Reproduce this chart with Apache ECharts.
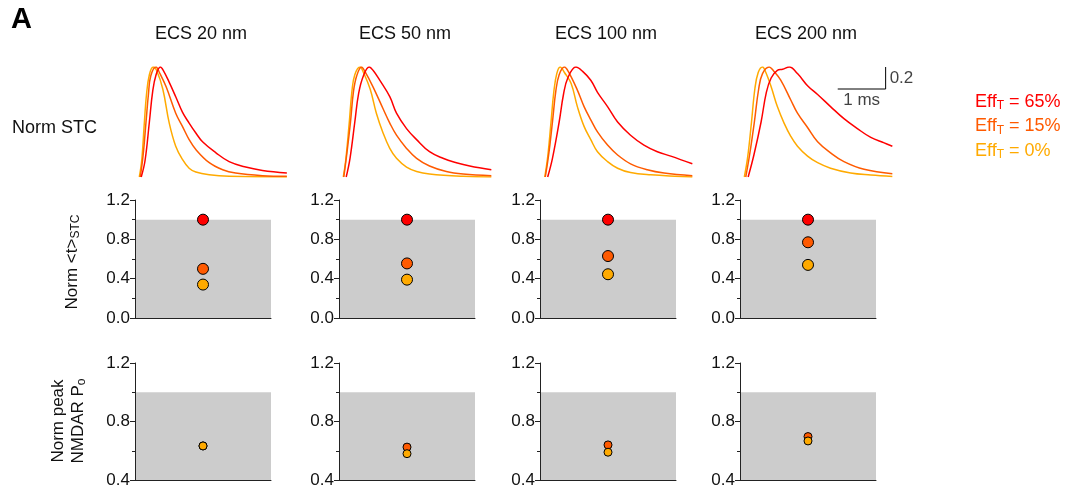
<!DOCTYPE html>
<meta charset="utf-8">
<style>
html, body { margin: 0; padding: 0; background: #fff; }
#main { width: 1073px; height: 495px; }
</style>
<div id="main"></div>
<script src="https://cdn.jsdelivr.net/npm/echarts@6/dist/echarts.min.js"></script>
<script>
var ecsLabels = ['ECS 20 nm', 'ECS 50 nm', 'ECS 100 nm', 'ECS 200 nm'];
var effLabels = ['65%', '15%', '0%'];
var effColors = ['#ff0000', '#ff5a00', '#ffaa00'];

// normalized STC traces, [time (ms), norm value], one array per ECS width
var stc65 = [
    [[0.04,0],[0.12,0.15],[0.21,0.5],[0.28,0.78],[0.35,0.93],[0.44,1],[0.5,0.97],[0.625,0.86],[0.76,0.73],[0.9,0.59],[1.04,0.49],[1.18,0.40],[1.32,0.32],[1.6,0.22],[1.875,0.14],[2.22,0.09],[2.57,0.06],[3.08,0.036]],
    [[0.06,0],[0.14,0.17],[0.24,0.5],[0.32,0.76],[0.42,0.92],[0.54,1],[0.62,0.97],[0.76,0.88],[0.97,0.73],[1.11,0.58],[1.32,0.44],[1.53,0.34],[1.8,0.23],[2.08,0.17],[2.36,0.13],[2.64,0.10],[3.09,0.066]],
    [[0.07,0],[0.17,0.17],[0.31,0.5],[0.4,0.75],[0.49,0.9],[0.66,1],[0.8,0.96],[0.97,0.88],[1.11,0.77],[1.32,0.64],[1.53,0.50],[1.8,0.38],[2.08,0.29],[2.36,0.23],[2.64,0.19],[3.09,0.12]],
    [[0.08,0],[0.2,0.2],[0.35,0.5],[0.46,0.77],[0.56,0.9],[0.69,0.97],[0.8,0.98],[0.94,1],[1.11,0.94],[1.32,0.83],[1.53,0.75],[1.8,0.64],[2.08,0.53],[2.36,0.44],[2.64,0.36],[2.92,0.31],[3.09,0.28]]
];
var stc15 = [
    [[0.02,0],[0.08,0.2],[0.14,0.5],[0.19,0.75],[0.24,0.92],[0.35,1],[0.42,0.95],[0.56,0.82],[0.76,0.58],[0.9,0.46],[1.04,0.34],[1.18,0.25],[1.46,0.13],[1.74,0.066],[2.01,0.036],[2.57,0.012],[3.08,0.006]],
    [[0.01,0],[0.07,0.2],[0.15,0.5],[0.21,0.77],[0.28,0.92],[0.38,1],[0.45,0.96],[0.62,0.82],[0.83,0.62],[0.97,0.49],[1.11,0.38],[1.32,0.26],[1.53,0.17],[1.8,0.10],[2.15,0.05],[2.5,0.027],[3.09,0.012]],
    [[0.02,0],[0.09,0.2],[0.17,0.5],[0.24,0.78],[0.31,0.93],[0.42,1],[0.5,0.96],[0.69,0.79],[0.83,0.64],[0.97,0.52],[1.11,0.41],[1.32,0.29],[1.53,0.2],[1.8,0.12],[2.15,0.066],[2.5,0.036],[3.09,0.012]],
    [[0.03,0],[0.11,0.2],[0.21,0.5],[0.3,0.8],[0.38,0.94],[0.52,1],[0.6,0.97],[0.76,0.88],[0.97,0.70],[1.11,0.58],[1.32,0.45],[1.53,0.32],[1.8,0.22],[2.08,0.14],[2.5,0.07],[3.09,0.03]]
];
var stc0 = [
    [[0,0],[0.05,0.15],[0.1,0.46],[0.15,0.75],[0.21,0.93],[0.29,1],[0.36,0.97],[0.49,0.80],[0.625,0.49],[0.76,0.28],[0.9,0.16],[1.04,0.08],[1.18,0.045],[1.46,0.02],[1.875,0.006],[3.08,0]],
    [[0,0],[0.05,0.15],[0.125,0.5],[0.18,0.78],[0.24,0.93],[0.35,1],[0.42,0.95],[0.56,0.80],[0.69,0.58],[0.83,0.40],[0.97,0.26],[1.11,0.17],[1.32,0.09],[1.53,0.05],[1.8,0.027],[2.5,0.006],[3.09,0]],
    [[0.01,0],[0.07,0.18],[0.14,0.5],[0.2,0.78],[0.26,0.94],[0.33,1],[0.42,0.95],[0.56,0.85],[0.69,0.64],[0.83,0.46],[0.97,0.34],[1.11,0.23],[1.32,0.14],[1.53,0.08],[1.8,0.04],[2.22,0.02],[3.09,0]],
    [[0,0],[0.07,0.18],[0.15,0.5],[0.22,0.8],[0.29,0.95],[0.38,1],[0.45,0.95],[0.56,0.82],[0.69,0.64],[0.83,0.49],[0.97,0.37],[1.11,0.28],[1.32,0.19],[1.53,0.13],[1.8,0.08],[2.22,0.036],[2.64,0.018],[3.09,0.005]]
];

// Norm <t>STC
var tau65 = [1.0, 1.0, 1.0, 1.0];
var tau15 = [0.50, 0.555, 0.63, 0.77];
var tau0 = [0.34, 0.39, 0.445, 0.54];

// Norm peak NMDAR Po
var po15 = [0.633, 0.625, 0.64, 0.697];
var po0 = [0.633, 0.58, 0.59, 0.667];

// scale bar: 1 ms x 0.2
var scaleBar = [[1.95, 0.8], [2.95, 0.8], [2.95, 1.0]];

var FONT = 'Liberation Sans, Arial, sans-serif';
var colLeft = [135, 339, 540, 740];
var colW = 136;

var chart = echarts.init(document.getElementById('main'));

var grids = [], xAxes = [], yAxes = [], series = [];

function valueYAxis(idx, min, max) {
    return {
        type: 'value', gridIndex: idx, min: min, max: max, interval: 0.4, z: 6,
        axisLine: { show: true, onZero: false, lineStyle: { color: '#222', width: 1 } },
        axisTick: { show: true, length: 5, lineStyle: { color: '#222' } },
        minorTick: { show: true, splitNumber: 2, length: 3, lineStyle: { color: '#222' } },
        axisLabel: { color: '#111', fontSize: 17, fontFamily: FONT, margin: 5,
            formatter: function (v) { return v.toFixed(1); } },
        splitLine: { show: false },
        minorSplitLine: { show: false }
    };
}
function boxXAxis(idx) {
    return {
        type: 'value', gridIndex: idx, min: 0, max: 1, z: 6,
        axisLine: { show: true, onZero: false, lineStyle: { color: '#222', width: 1 } },
        axisTick: { show: false }, axisLabel: { show: false }, splitLine: { show: false }
    };
}

// top row: traces
for (var c = 0; c < 4; c++) {
    grids.push({ left: colLeft[c], top: 67, width: 160, height: 110 });
    xAxes.push({ type: 'value', gridIndex: c, min: -0.09, max: 3.25, show: false });
    yAxes.push({ type: 'value', gridIndex: c, min: 0, max: 1, show: false });
    [stc0, stc15, stc65].forEach(function (set, k) {
        series.push({
            type: 'line', xAxisIndex: c, yAxisIndex: c, data: set[c],
            showSymbol: false, smooth: 0.4, silent: true,
            lineStyle: { color: effColors[2 - k], width: 1.5 }
        });
    });
}
series.push({
    type: 'line', xAxisIndex: 3, yAxisIndex: 3, data: scaleBar, showSymbol: false, silent: true,
    lineStyle: { color: '#000', width: 1 }
});
series.push({
    type: 'scatter', xAxisIndex: 3, yAxisIndex: 3, symbolSize: 0, silent: true,
    data: [
        { value: [2.95, 0.9], label: { show: true, position: 'right', distance: 4, formatter: '0.2' } },
        { value: [2.45, 0.8], label: { show: true, position: 'bottom', distance: 3, formatter: '1 ms' } }
    ],
    label: { color: '#111', fontSize: 17, fontFamily: FONT }
});

// middle row: Norm <t>STC
for (var c = 0; c < 4; c++) {
    var gi = 4 + c;
    grids.push({ left: colLeft[c], top: 200, width: colW, height: 118 });
    xAxes.push(boxXAxis(gi));
    yAxes.push(valueYAxis(gi, 0, 1.2));
    series.push({
        type: 'scatter', xAxisIndex: gi, yAxisIndex: gi, data: [], z: 1, silent: true,
        markArea: { silent: true, itemStyle: { color: '#cccccc' },
            data: [[{ xAxis: 0, yAxis: 0 }, { xAxis: 1, yAxis: 1 }]] }
    });
    [tau65, tau15, tau0].forEach(function (vals, k) {
        series.push({
            type: 'scatter', xAxisIndex: gi, yAxisIndex: gi, z: 8, symbolSize: 11,
            data: [[0.5, vals[c]]],
            itemStyle: { color: effColors[k], borderColor: '#000', borderWidth: 1, opacity: 1 }
        });
    });
}

// bottom row: Norm peak NMDAR Po
for (var c = 0; c < 4; c++) {
    var gi = 8 + c;
    grids.push({ left: colLeft[c], top: 363, width: colW, height: 117 });
    xAxes.push(boxXAxis(gi));
    yAxes.push(valueYAxis(gi, 0.4, 1.2));
    series.push({
        type: 'scatter', xAxisIndex: gi, yAxisIndex: gi, data: [], z: 1, silent: true,
        markArea: { silent: true, itemStyle: { color: '#cccccc' },
            data: [[{ xAxis: 0, yAxis: 0.4 }, { xAxis: 1, yAxis: 1 }]] }
    });
    [po15, po0].forEach(function (vals, k) {
        series.push({
            type: 'scatter', xAxisIndex: gi, yAxisIndex: gi, z: 8, symbolSize: 8,
            data: [[0.5, vals[c]]],
            itemStyle: { color: effColors[k + 1], borderColor: '#000', borderWidth: 1, opacity: 1 }
        });
    });
}

var graphics = [
    { type: 'text', left: 11, top: 5, style: { text: 'A', font: 'bold 29px ' + FONT, fill: '#000' } },
    { type: 'text', x: 12, y: 128, style: { text: 'Norm STC', font: '18px ' + FONT, fill: '#111', verticalAlign: 'middle' } },
    { type: 'text', x: 72, y: 262, rotation: Math.PI / 2,
      style: { text: '{a|Norm <t>}{s|STC}', align: 'center', verticalAlign: 'middle', fill: '#111',
        rich: { a: { font: '17px ' + FONT, fill: '#111' }, s: { font: '12px ' + FONT, fill: '#111', padding: [8, 0, 0, 0] } } } },
    { type: 'text', x: 68, y: 421, rotation: Math.PI / 2,
      style: { text: '{a|Norm peak}\n{a|NMDAR P}{s|o}', align: 'center', verticalAlign: 'middle', fill: '#111',
        rich: { a: { font: '17px ' + FONT, fill: '#111', lineHeight: 20 }, s: { font: '12px ' + FONT, fill: '#111', padding: [8, 0, 0, 0], lineHeight: 20 } } } }
];
ecsLabels.forEach(function (t, c) {
    graphics.push({ type: 'text', x: colLeft[c] + colW / 2 - 2, y: 34,
        style: { text: t, font: '18px ' + FONT, fill: '#111', align: 'center', verticalAlign: 'middle' } });
});
effLabels.forEach(function (t, k) {
    graphics.push({ type: 'text', x: 975, y: 102 + k * 24.5,
        style: { text: '{a|Eff}{s|T}{a| = ' + t + '}', verticalAlign: 'middle',
            rich: { a: { font: '18px ' + FONT, fill: effColors[k] }, s: { font: '12px ' + FONT, fill: effColors[k], padding: [8, 0, 0, 0] } } } });
});

chart.setOption({
    animation: false,
    grid: grids,
    xAxis: xAxes,
    yAxis: yAxes,
    series: series,
    graphic: graphics
});
</script>
